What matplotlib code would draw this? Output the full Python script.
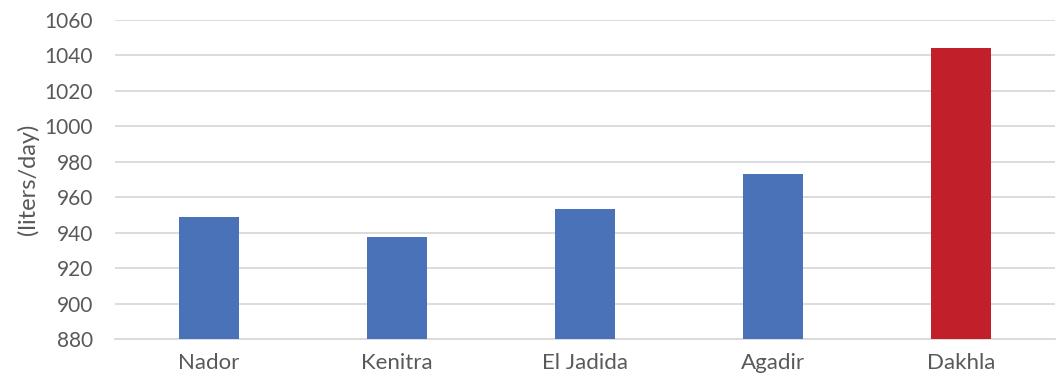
import matplotlib
matplotlib.use("Agg")
import matplotlib.pyplot as plt

# values
cities = ["Nador", "Kenitra", "El Jadida", "Agadir", "Dakhla"]
consumption = [949, 937.5, 953.5, 973, 1044.5]
bar_colors = ["#4A72B8", "#4A72B8", "#4A72B8", "#4A72B8", "#C1202A"]
yticks = list(range(880, 1061, 20))

plt.rcParams["font.family"] = ["Lato", "DejaVu Sans"]
text_color = "#595959"

fig = plt.figure(figsize=(10.57, 3.85), dpi=100)
ax = fig.add_axes([0.109, 0.119, 0.889, 0.829])

x = range(len(cities))
ax.bar(x, [v - 880 for v in consumption], bottom=880, width=0.32,
       color=bar_colors, zorder=3)

ax.set_ylim(880, 1060)
ax.set_xlim(-0.5, len(cities) - 0.5)
ax.set_yticks(yticks)
ax.set_xticks(list(x))
ax.set_xticklabels(cities)
ax.grid(axis="y", color="#D9D9D9", lw=1.3, zorder=0)
for side in ("top", "right", "left"):
    ax.spines[side].set_visible(False)
ax.spines["bottom"].set_color("#D9D9D9")
ax.spines["bottom"].set_linewidth(1.3)
ax.tick_params(length=0, colors=text_color)
ax.tick_params(axis="y", labelsize=15, pad=16)
ax.tick_params(axis="x", labelsize=16, pad=10)
ax.set_ylabel("(liters/day)", fontsize=17, color=text_color, labelpad=4)

fig.savefig("out.png", dpi=100)
